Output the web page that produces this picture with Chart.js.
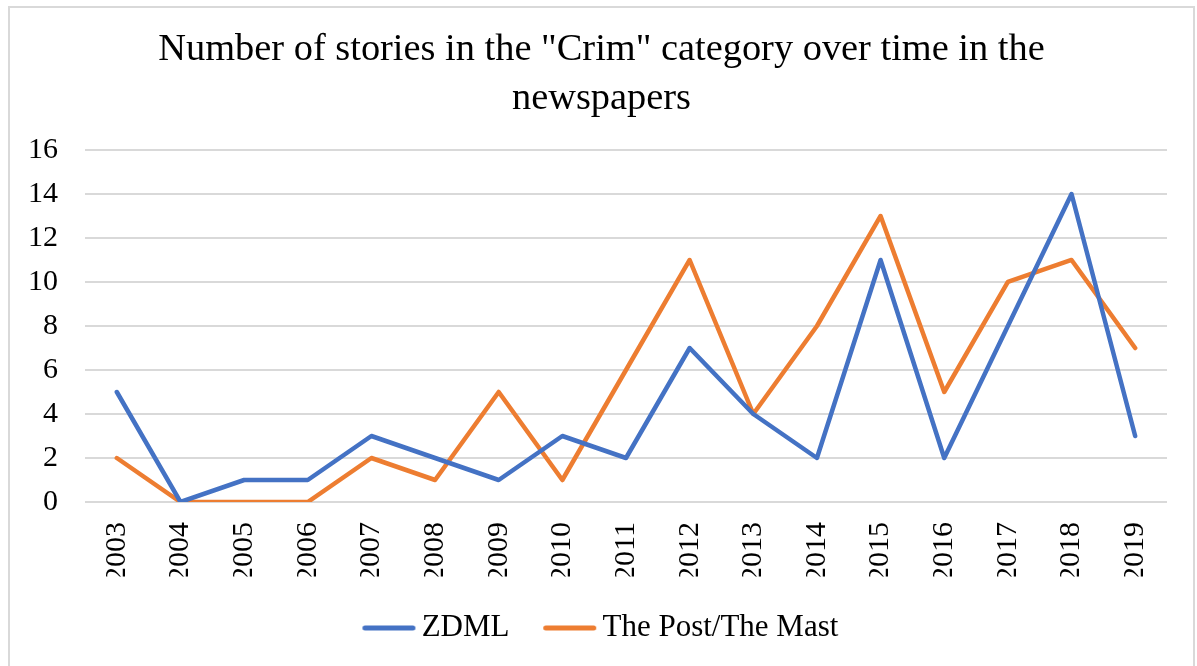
<!DOCTYPE html>
<html>
<head>
<meta charset="utf-8">
<script src="https://cdn.jsdelivr.net/npm/chart.js@4"></script>
<style>
  html, body { margin: 0; padding: 0; background: #ffffff; }
  #wrap { position: relative; width: 1197px; height: 666px; }
  #frame { position: absolute; left: 8px; top: 6px; width: 1187px; height: 680px;
           border: 2px solid #d9d9d9; box-sizing: border-box; pointer-events: none; }
  canvas { position: absolute; left: 0; top: 0; }
</style>
</head>
<body>
<div id="wrap">
  <canvas id="c" width="1197" height="666"></canvas>
  <div id="frame"></div>
</div>
<script>
const years = ['2003','2004','2005','2006','2007','2008','2009','2010','2011',
               '2012','2013','2014','2015','2016','2017','2018','2019'];
const zdml = [5, 0, 1, 1, 3, 2, 1, 3, 2, 7, 4, 2, 11, 2, 8, 14, 3];
const postMast = [2, 0, 0, 0, 2, 1, 5, 1, 6, 11, 4, 8, 13, 5, 10, 11, 7];
const yTicks = [0, 2, 4, 6, 8, 10, 12, 14, 16];

const serif = "'Liberation Serif', 'Times New Roman', serif";
const BLUE = '#4472C4';
const ORANGE = '#ED7D31';

// Legend marker: a short thick line, placed so the label sits close to it.
function legendLine(color) {
  const c = document.createElement('canvas');
  c.width = 62; c.height = 8;
  const g = c.getContext('2d');
  g.strokeStyle = color;
  g.lineWidth = 5;
  g.lineCap = 'round';
  g.beginPath();
  g.moveTo(10.5, 4);
  g.lineTo(58.5, 4);
  g.stroke();
  return c;
}

new Chart(document.getElementById('c'), {
  type: 'line',
  data: {
    labels: years,
    datasets: [
      { label: 'ZDML', data: zdml, borderColor: BLUE, backgroundColor: BLUE,
        borderWidth: 4.5, pointRadius: 0, tension: 0,
        borderJoinStyle: 'round', borderCapStyle: 'round' },
      { label: 'The Post/The Mast', data: postMast, borderColor: ORANGE, backgroundColor: ORANGE,
        borderWidth: 4.5, pointRadius: 0, tension: 0,
        borderJoinStyle: 'round', borderCapStyle: 'round' }
    ]
  },
  options: {
    responsive: false,
    animation: false,
    layout: { padding: { left: 6, right: 0, top: 10, bottom: 12.5 } },
    plugins: {
      title: {
        display: true,
        text: ['Number of stories in the "Crim" category over time in the', 'newspapers'],
        color: '#000000',
        font: { family: serif, size: 38.4, weight: 'normal', lineHeight: 1.276 },
        padding: { top: 15.5, bottom: 26.5 }
      },
      legend: {
        position: 'bottom',
        labels: {
          color: '#000000',
          font: { family: serif, size: 31 },
          usePointStyle: true,
          pointStyleWidth: 41.5,
          padding: 36,
          generateLabels(chart) {
            return chart.data.datasets.map((ds, i) => ({
              text: ds.label,
              fillStyle: ds.borderColor,
              strokeStyle: ds.borderColor,
              lineWidth: 0,
              hidden: false,
              datasetIndex: i,
              fontColor: '#000000',
              pointStyle: legendLine(ds.borderColor)
            }));
          }
        }
      },
      tooltip: { enabled: false }
    },
    scales: {
      x: {
        offset: true,
        grid: { display: false, drawTicks: false },
        border: { display: false },
        ticks: {
          color: '#000000',
          font: { family: serif, size: 30 },
          maxRotation: 90, minRotation: 90,
          padding: 20,
          autoSkip: false
        },
        afterFit(scale) { scale.height = 74.5; }
      },
      y: {
        min: 0, max: 16,
        afterBuildTicks(axis) { axis.ticks = yTicks.map(v => ({ value: v })); },
        grid: { color: '#d9d9d9', lineWidth: 2, drawTicks: false },
        border: { display: false },
        ticks: {
          color: '#000000',
          font: { family: serif, size: 30 },
          padding: 27
        },
        afterFit(scale) { scale.width = 79; }
      },
      // empty right-hand margin beside the plot
      yRight: {
        position: 'right',
        display: true,
        grid: { display: false, drawTicks: false },
        border: { display: false },
        ticks: { display: false },
        afterFit(scale) { scale.width = 30; }
      }
    }
  }
});
</script>
</body>
</html>
